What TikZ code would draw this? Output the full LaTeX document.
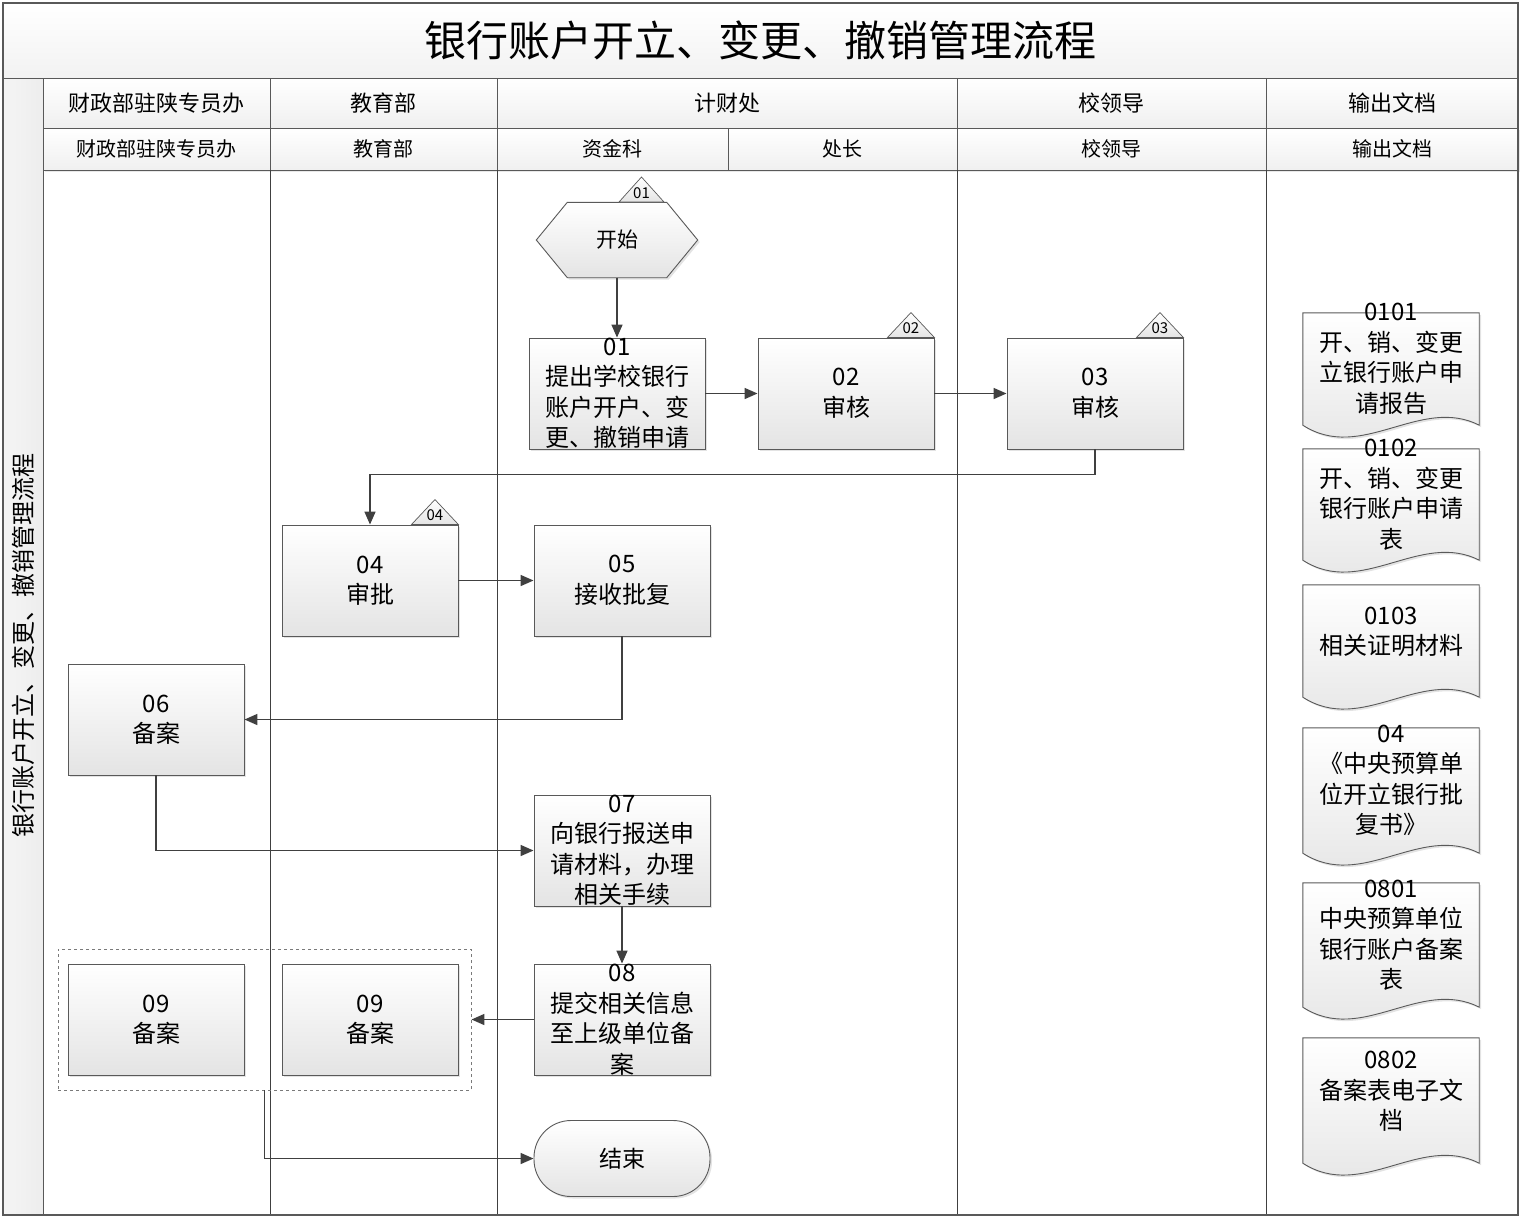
\documentclass[tikz,border=0pt]{standalone}
\usepackage{fontspec}
\setmainfont{Noto Sans CJK SC}
\usetikzlibrary{arrows.meta,shadows,calc}
\definecolor{linec}{HTML}{404040}
\definecolor{edgec}{HTML}{595959}
\definecolor{shadec}{HTML}{E4E4E4}
\begin{document}
\begin{tikzpicture}[x=1pt,y=-1pt,
  procbox/.style={draw=edgec, line width=0.9pt, top color=white, bottom color=shadec,
    minimum width=176pt, minimum height=111pt, inner sep=0pt, align=center,
    font=\fontsize{24}{30.5}\selectfont,
    drop shadow={shadow xshift=2pt, shadow yshift=-2pt, opacity=0.22}},
  hdrone/.style={draw=edgec, line width=0.8pt, top color=white, bottom color=gray!12,
    minimum height=50pt, inner sep=0pt, font=\fontsize{22}{22}\selectfont},
  hdrtwo/.style={draw=edgec, line width=0.8pt, top color=white, bottom color=gray!12,
    minimum height=42pt, inner sep=0pt, font=\fontsize{20}{20}\selectfont,
    drop shadow={shadow xshift=1.5pt, shadow yshift=-1.5pt, opacity=0.18}},
  lanel/.style={draw=linec, line width=0.9pt},
  conn/.style={draw=linec, line width=1.6pt, -{Triangle[length=13pt,width=11pt]}},
  markshape/.style={draw=edgec, line width=0.7pt, top color=white, bottom color=shadec},
  marktext/.style={font=\fontsize{15}{15}\selectfont, inner sep=0pt},
  docrect/.style={minimum width=176pt, inner sep=0pt},
  docshape/.style={draw=edgec, line width=0.9pt, top color=white, bottom color=shadec,
    drop shadow={shadow xshift=2pt, shadow yshift=-2pt, opacity=0.22}},
  doctext/.style={align=center, inner sep=0pt, font=\fontsize{24}{30.5}\selectfont},
  hexbox/.style={minimum width=161pt, minimum height=75pt, inner sep=0pt,
    font=\fontsize{21}{21}\selectfont},
  endbox/.style={draw=edgec, line width=0.9pt, top color=white, bottom color=shadec,
    rounded corners=37pt, minimum width=176pt, minimum height=76pt, inner sep=0pt,
    font=\fontsize{23}{23}\selectfont,
    drop shadow={shadow xshift=2pt, shadow yshift=-2pt, opacity=0.22}},
  groupbox/.style={draw=edgec!80, line width=0.9pt, dashed, minimum width=413pt,
    minimum height=141pt, inner sep=0pt}
]
\useasboundingbox (0,0) rectangle (1523,1219);

% title band and left band
\path[top color=white, bottom color=gray!10, draw=edgec, line width=0.9pt] (3,3) rectangle (1518,78);
\node[font=\fontsize{42}{42}\selectfont, inner sep=0pt] (title) at (760,40) {银行账户开立、变更、撤销管理流程};
\path[left color=gray!8, right color=gray!14, draw=edgec, line width=0.9pt] (3,78) rectangle (43,1215);
\node[rotate=90, font=\fontsize{24}{24}\selectfont, inner sep=0pt] (sidelbl) at (23,645) {银行账户开立、变更、撤销管理流程};

% header row 1
\node[hdrone, minimum width=227pt] (h1a) at (156.5,103) {财政部驻陕专员办};
\node[hdrone, minimum width=227pt] (h1b) at (383.5,103) {教育部};
\node[hdrone, minimum width=460pt] (h1c) at (727,103) {计财处};
\node[hdrone, minimum width=309pt] (h1d) at (1111.5,103) {校领导};
\node[hdrone, minimum width=252pt] (h1e) at (1392,103) {输出文档};
% header row 2
\node[hdrtwo, minimum width=227pt] (h2a) at (156.5,149) {财政部驻陕专员办};
\node[hdrtwo, minimum width=227pt] (h2b) at (383.5,149) {教育部};
\node[hdrtwo, minimum width=231pt] (h2c) at (612.5,149) {资金科};
\node[hdrtwo, minimum width=229pt] (h2d) at (842.5,149) {处长};
\node[hdrtwo, minimum width=309pt] (h2e) at (1111.5,149) {校领导};
\node[hdrtwo, minimum width=252pt] (h2f) at (1392,149) {输出文档};

% lane lines
\draw[lanel] (270,170) -- (270,1215);
\draw[lanel] (497,170) -- (497,1215);
\draw[lanel] (957,170) -- (957,1215);
\draw[lanel] (1266,170) -- (1266,1215);

% start hexagon
\node[hexbox] (start) at (617,240) {};
\path[docshape] (start.west) -- ([xshift=31pt]start.north west) -- ([xshift=-31pt]start.north east)
  -- (start.east) -- ([xshift=-31pt]start.south east) -- ([xshift=31pt]start.south west) -- cycle;
\node[hexbox] (starttxt) at (start.center) {开始};
\path[markshape] (619,202) -- (641.5,177) -- (664,202) -- cycle;
\node[marktext] (m01) at (641.5,193) {01};

% process boxes
\node[procbox] (b01) at (617,393.5) {01\\提出学校银行\\账户开户、变\\更、撤销申请};
\node[procbox] (b02) at (846,393.5) {02\\审核};
\node[procbox] (b03) at (1095,393.5) {03\\审核};
\node[procbox] (b04) at (370,580.5) {04\\审批};
\node[procbox] (b05) at (622,580.5) {05\\接收批复};
\node[procbox] (b06) at (156,719.5) {06\\备案};
\node[procbox] (b07) at (622,850.5) {07\\向银行报送申\\请材料，办理\\相关手续};
\node[procbox] (b08) at (622,1019.5) {08\\提交相关信息\\至上级单位备\\案};
\node[groupbox] (grp) at (264.5,1019.5) {};
\node[procbox] (b09a) at (156,1019.5) {09\\备案};
\node[procbox] (b09b) at (370,1019.5) {09\\备案};
\node[endbox] (stop) at (622,1158.5) {结束};

% markers
\foreach \n/\t in {b02/02, b03/03, b04/04}{
  \path[markshape] ([xshift=-47pt]\n.north east) -- ([xshift=-23.5pt,yshift=25pt]\n.north east) -- (\n.north east) -- cycle;
  \node[marktext] at ([xshift=-23.5pt,yshift=9pt]\n.north east) {\t};
}

% documents
\foreach \n/\y/\h in {d1/369/112, d2/504.5/111, d3/641/112, d4/790.5/125, d5/945/124, d6/1100.5/125}{
  \node[docrect, minimum height=\h pt] (\n) at (1391,\y) {};
  \path[docshape] (\n.south west) -- (\n.north west) -- (\n.north east) -- (\n.south east)
    .. controls +(-59,-30) and +(59,38) .. (\n.south west) -- cycle;
}
\node[doctext] (t1) at ([yshift=10pt]d1.center) {0101\\开、销、变更\\立银行账户申\\请报告};
\node[doctext] (t2) at ([yshift=10pt]d2.center) {0102\\开、销、变更\\银行账户申请\\表};
\node[doctext] (t3) at ([yshift=9pt]d3.center) {0103\\相关证明材料};
\node[doctext] (t4) at ([yshift=10pt]d4.center) {04\\《中央预算单\\位开立银行批\\复书》};
\node[doctext] (t5) at ([yshift=10pt]d5.center) {0801\\中央预算单位\\银行账户备案\\表};
\node[doctext] (t6) at ([yshift=9pt]d6.center) {0802\\备案表电子文\\档};

% connectors
\draw[conn] (start) -- (b01);
\draw[conn] (b01) -- (b02);
\draw[conn] (b02) -- (b03);
\draw[conn] (b03.south) -- ++(0,25) -| (b04.north);
\draw[conn] (b04) -- (b05);
\draw[conn] (b05.south) |- (b06.east);
\draw[conn] (b06.south) |- (b07.west);
\draw[conn] (b07) -- (b08);
\draw[conn] (b08) -- (grp);
\draw[conn] (grp.south) |- (stop.west);

% outer frame
\draw[edgec, line width=1.2pt] (3,3) rectangle (1518,1215);
\end{tikzpicture}
\end{document}
